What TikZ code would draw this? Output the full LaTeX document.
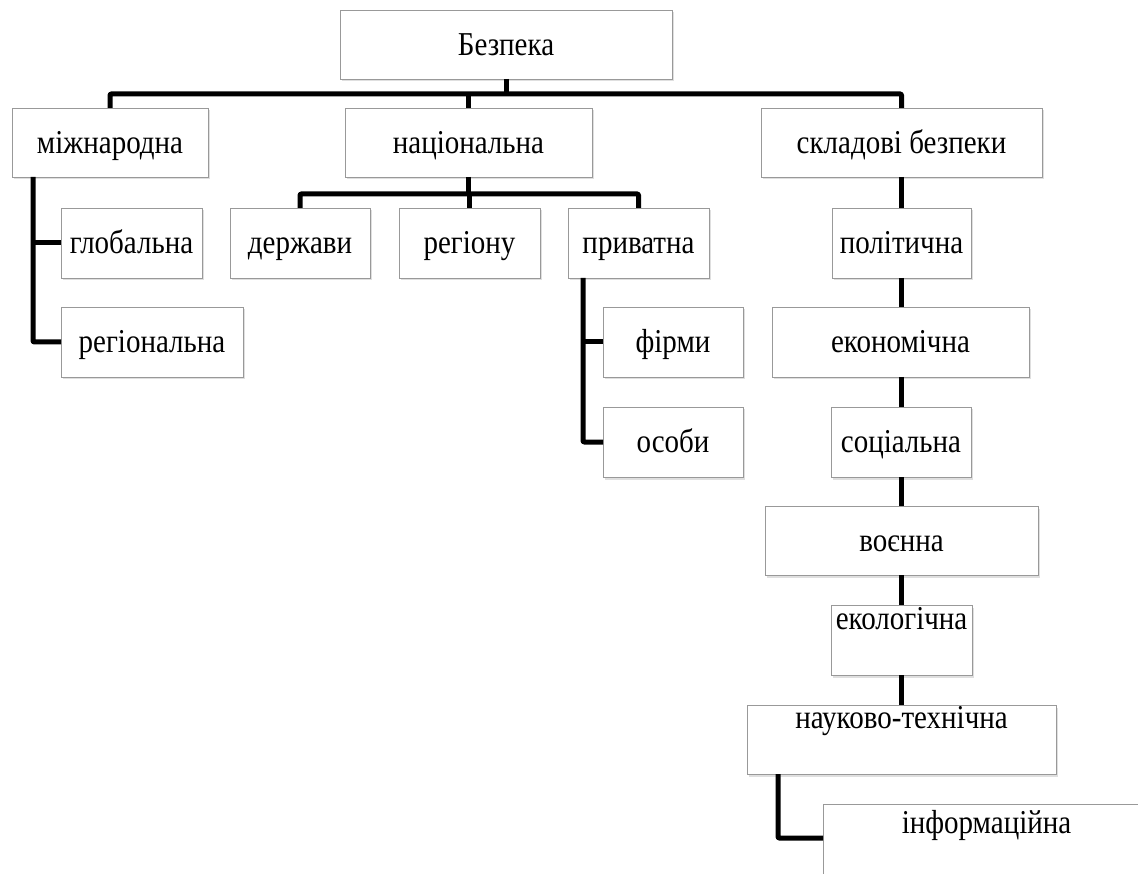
\documentclass[tikz,border=0pt]{standalone}
\usepackage{fontspec}
\usepackage{graphicx}
\setmainfont{Liberation Serif}
\usetikzlibrary{shadows}
\newcommand{\tallt}[1]{\scalebox{1}[1.15]{#1}}
\tikzset{
  box/.style={draw=black!40, line width=0.9pt, fill=white, inner sep=0pt, outer sep=0pt,
    font=\fontsize{29}{32}\selectfont, text height=22pt, text depth=0pt,
    drop shadow={shadow xshift=1.5pt, shadow yshift=-2.5pt, opacity=0.25}},
  topbox/.style={box, text height=0pt, text depth=22pt},
  conn/.style={line width=5pt, black, line join=round, rounded corners=1pt}
}
\begin{document}
\begin{tikzpicture}[x=1pt,y=-1pt]
\useasboundingbox (0,0) rectangle (1138,874);
\clip (0,0) rectangle (1138,874);
% nodes
\node[box, minimum width=332, minimum height=69] (bez) at (506,44.5) {\tallt{Безпека}};
\node[box, minimum width=196, minimum height=69] (mizh) at (110,142.5) {\tallt{міжнародна}};
\node[box, minimum width=247, minimum height=69] (nats) at (468.5,142.5) {\tallt{національна}};
\node[box, minimum width=281, minimum height=69] (sklad) at (901.5,142.5) {\tallt{складові безпеки}};
\node[box, minimum width=141, minimum height=70] (glob) at (131.5,243) {\tallt{глобальна}};
\node[box, minimum width=140, minimum height=70] (derzh) at (300,243) {\tallt{держави}};
\node[box, minimum width=141, minimum height=70] (regn) at (469.5,243) {\tallt{регіону}};
\node[box, minimum width=141, minimum height=70] (pryv) at (638.5,243) {\tallt{приватна}};
\node[box, minimum width=139, minimum height=70] (polit) at (901.5,243) {\tallt{політична}};
\node[box, minimum width=182, minimum height=70] (regl) at (152,342) {\tallt{регіональна}};
\node[box, minimum width=140, minimum height=70] (firm) at (673,342) {\tallt{фірми}};
\node[box, minimum width=257, minimum height=70] (econ) at (900.5,342) {\tallt{економічна}};
\node[box, minimum width=140, minimum height=70] (osob) at (673,442) {\tallt{особи}};
\node[box, minimum width=140, minimum height=70] (soc) at (901,442) {\tallt{соціальна}};
\node[box, minimum width=273, minimum height=69] (voen) at (901.5,540.5) {\tallt{воєнна}};
\node[topbox, minimum width=141, minimum height=70] (eco) at (901.5,640) {\tallt{екологічна}};
\node[topbox, minimum width=309, minimum height=69] (nauk) at (901.5,739.5) {\tallt{науково-технічна}};
\node[topbox, minimum width=327, minimum height=80] (info) at (986.5,844) {\tallt{інформаційна}};
% helper coordinates
\coordinate (b1) at (0,94);
\coordinate (b2) at (0,194);
\coordinate (m1) at (33,0);
\coordinate (p1) at (583,0);
\coordinate (n1) at (778,0);
\coordinate (n2) at (0,838);
% connectors
\draw[conn] (bez.south) -- (bez.south |- b1);
\draw[conn] (mizh.north) |- (b1 -| sklad.north) -- (sklad.north);
\draw[conn] (nats.north) -- (nats.north |- b1);
\draw[conn] (nats.south) -- (nats.south |- b2);
\draw[conn] (derzh.north) |- (b2 -| pryv.north) -- (pryv.north);
\draw[conn] (regn.north) -- (regn.north |- b2);
\draw[conn] (m1 |- mizh.south) |- (regl.west);
\draw[conn] (m1 |- glob.west) -- (glob.west);
\draw[conn] (p1 |- pryv.south) |- (osob.west);
\draw[conn] (p1 |- firm.west) -- (firm.west);
\draw[conn] (sklad.south) -- (polit.north);
\draw[conn] (polit.south) -- (polit.south |- econ.north);
\draw[conn] (econ.south -| soc.north) -- (soc.north);
\draw[conn] (soc.south) -- (soc.south |- voen.north);
\draw[conn] (voen.south) -- (voen.south |- eco.north);
\draw[conn] (eco.south) -- (eco.south |- nauk.north);
\draw[conn] (n1 |- nauk.south) -- (n1 |- n2) -- (info.west |- n2);
\end{tikzpicture}
\end{document}
